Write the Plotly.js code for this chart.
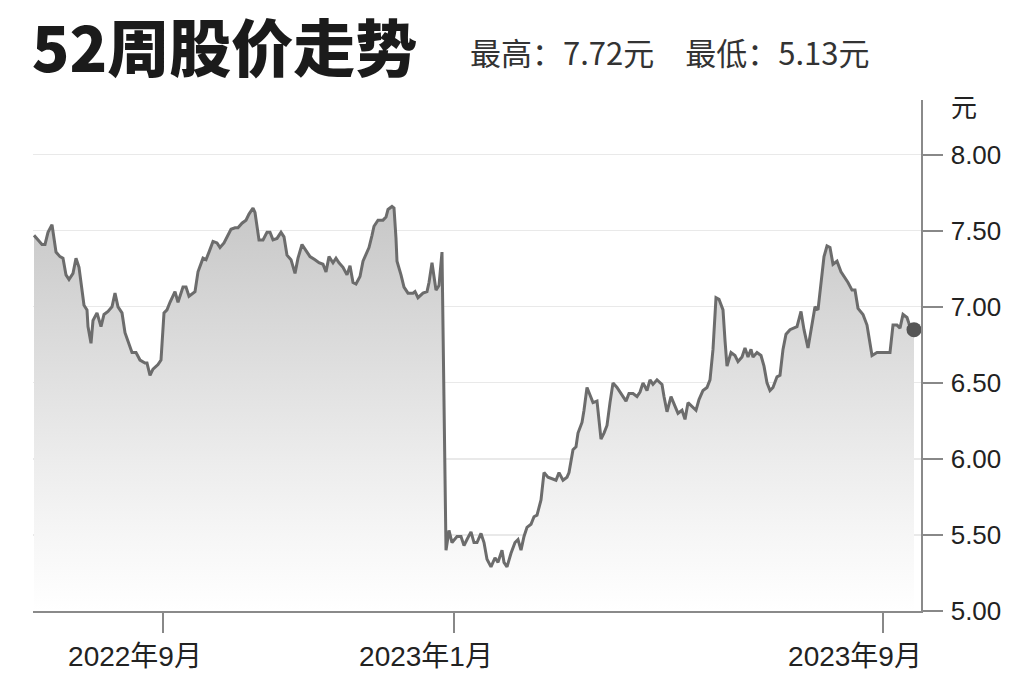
<!DOCTYPE html>
<html>
<head>
<meta charset="utf-8">
<script src="https://cdn.plot.ly/plotly-3.0.1.min.js"></script>
<style>
html,body{margin:0;padding:0;background:#fff;}
#chart{width:1024px;height:682px;}
</style>
</head>
<body>
<div id="chart"></div>
<script>
// Position along the 52-week window (session index) and closing price (元)
const days = [
  0,4,8,11,14,18,19,22,26,29,32,35,39,42,45,48,50,53,54,57,
  59,63,67,70,74,78,81,84,88,91,94,98,102,106,111,113,116,119,124,127,
  130,133,
  136,141,144,149,152,155,161,164,169,172,175,179,183,186,190,193,197,201,204,208,
  212,215,219,221,223,225,229,233,236,239,243,247,250,253,257,261,264,268,272,276,
  281,285,289,292,295,299,302,305,309,313,316,319,322,326,329,332,335,338,340,344,
  349,352,354,358,360,362,363,367,370,374,379,381,384,389,393,395,398,400,402,405,
  408,
  412,415,418,423,427,430,433,437,440,443,447,450,453,457,461,464,468,470,473,477,
  481,484,487,490,493,497,500,503,507,510,514,519,522,525,529,533,535,539,542,544,
  548,550,553,556,559,563,567,570,573,576,579,583,587,592,595,599,603,606,609,613,
  616,619,623,628,630,633,637,640,644,648,651,654,659,662,665,669,673,676,679,682,
  685,689,691,693,697,701,704,708,711,714,717,719,723,727,730,733,736,739,743,746,
  749,752,756,760,763,767,770,774,778,781,784,787,790,793,796,799,803,807,811,814,
  818,821,824,829,833,835,838,843,848,852,856,859,863,866,869,873,876,880
];
const prices = [
  7.47,7.44,7.41,7.41,7.49,7.54,7.49,7.36,7.33,7.32,7.21,7.18,7.22,7.32,7.26,7.11,7.01,6.98,6.87,6.76,
  6.91,6.96,6.87,6.95,6.97,7.00,7.09,7.00,6.96,6.83,6.77,6.70,6.70,6.65,6.63,6.63,6.55,6.59,6.62,6.65,
  6.96,6.98,
  7.03,7.10,7.03,7.13,7.13,7.07,7.10,7.23,7.32,7.31,7.36,7.43,7.42,7.39,7.42,7.46,7.51,7.52,7.52,7.55,
  7.57,7.61,7.65,7.62,7.52,7.44,7.44,7.49,7.49,7.44,7.45,7.49,7.46,7.34,7.31,7.22,7.32,7.41,7.37,7.33,
  7.31,7.29,7.28,7.23,7.33,7.29,7.32,7.29,7.26,7.21,7.27,7.16,7.15,7.20,7.30,7.35,7.39,7.47,7.53,7.57,
  7.57,7.59,7.64,7.66,7.65,7.45,7.30,7.21,7.13,7.09,7.09,7.10,7.06,7.09,7.10,7.16,7.29,7.20,7.11,7.14,
  7.36,
  5.40,5.53,5.45,5.49,5.49,5.43,5.47,5.52,5.45,5.45,5.51,5.45,5.34,5.29,5.35,5.32,5.40,5.32,5.29,5.38,
  5.45,5.47,5.40,5.49,5.55,5.57,5.62,5.63,5.73,5.91,5.88,5.87,5.86,5.91,5.86,5.88,5.91,6.06,6.08,6.17,
  6.24,6.32,6.47,6.42,6.37,6.38,6.13,6.17,6.22,6.37,6.50,6.47,6.43,6.38,6.43,6.43,6.41,6.44,6.50,6.45,
  6.52,6.49,6.52,6.49,6.41,6.31,6.41,6.36,6.30,6.32,6.26,6.37,6.34,6.32,6.39,6.45,6.47,6.52,6.72,7.06,
  7.05,6.98,6.78,6.61,6.70,6.68,6.64,6.67,6.73,6.67,6.72,6.67,6.70,6.68,6.61,6.50,6.45,6.47,6.54,6.55,
  6.72,6.82,6.85,6.86,6.87,6.97,6.85,6.73,6.89,7.00,6.98,7.16,7.33,7.40,7.39,7.28,7.30,7.23,7.19,7.16,
  7.11,7.11,6.99,6.95,6.88,6.80,6.68,6.70,6.70,6.70,6.70,6.88,6.88,6.86,6.95,6.93,6.87,6.85
];
const tickDays = [129, 420, 849];
const tickLabels = ['2022年9月', '2023年1月', '2023年9月'];
const yTicks = [5.0, 5.5, 6.0, 6.5, 7.0, 7.5, 8.0];
const titleText = '52周股价走势';
const highPrice = 7.72;
const lowPrice = 5.13;
const unitLabel = '元';

const last = days.length - 1;

const traces = [
  {
    type: 'scatter', mode: 'lines',
    x: days, y: prices,
    line: {color: '#6c6c6c', width: 3, shape: 'linear'},
    fill: 'tozeroy',
    fillgradient: {
      type: 'vertical', start: 5.0, stop: 7.7,
      colorscale: [[0, '#ffffff'], [0.185, '#f6f6f6'], [0.37, '#ececec'], [0.556, '#e1e1e1'], [0.741, '#d6d6d6'], [1, '#c6c6c6']]
    },
    hoverinfo: 'skip', showlegend: false
  },
  {
    type: 'scatter', mode: 'markers',
    x: [days[last]], y: [prices[last]],
    marker: {color: '#555555', size: 15},
    hoverinfo: 'skip', showlegend: false, cliponaxis: false
  }
];

const layout = {
  width: 1024, height: 682,
  margin: {l: 33, r: 103, t: 100, b: 71, pad: 0},
  paper_bgcolor: '#ffffff', plot_bgcolor: '#ffffff',
  showlegend: false,
  title: {
    text: titleText,
    font: {family: '"Noto Sans CJK SC", sans-serif', size: 62, color: '#1b1b1b', weight: 900},
    xref: 'container', x: 0.031, xanchor: 'left',
    yref: 'container', y: 0.927, yanchor: 'middle'
  },
  xaxis: {
    range: [-1, 887],
    tickmode: 'array', tickvals: tickDays, ticktext: tickLabels,
    ticks: 'outside', ticklen: 20, tickwidth: 1.5, tickcolor: '#888888',
    ticklabelshift: -28,
    tickfont: {family: '"Liberation Sans", "Noto Sans CJK SC", sans-serif', size: 28, color: '#222222'},
    showline: true, linecolor: '#8a8a8a', linewidth: 1.5,
    showgrid: false, zeroline: false, fixedrange: true
  },
  yaxis: {
    range: [5.0, 8.36],
    side: 'right',
    tickmode: 'array', tickvals: yTicks, tickformat: '.2f',
    ticks: 'outside', ticklen: 20, tickwidth: 1.5, tickcolor: '#888888',
    ticklabelstandoff: 3,
    tickfont: {family: '"Liberation Sans", sans-serif', size: 26, color: '#222222'},
    showline: true, linecolor: '#8a8a8a', linewidth: 1.5,
    showgrid: true, gridcolor: '#e9e9e9', gridwidth: 1.2,
    zeroline: false, fixedrange: true
  },
  annotations: [
    {
      xref: 'paper', yref: 'paper', x: 0.49, y: 1.094,
      xanchor: 'left', yanchor: 'middle', showarrow: false,
      text: '最高：' + highPrice.toFixed(2) + unitLabel + '　最低：' + lowPrice.toFixed(2) + unitLabel,
      font: {family: '"Noto Sans CJK SC", sans-serif', size: 31, color: '#333333'}
    },
    {
      xref: 'paper', yref: 'paper', x: 1.031, y: 0.99,
      xanchor: 'left', yanchor: 'middle', showarrow: false,
      text: unitLabel,
      font: {family: '"Noto Sans CJK SC", sans-serif', size: 26, color: '#222222'}
    }
  ]
};

Plotly.newPlot('chart', traces, layout, {staticPlot: true, displayModeBar: false});
</script>
</body>
</html>
